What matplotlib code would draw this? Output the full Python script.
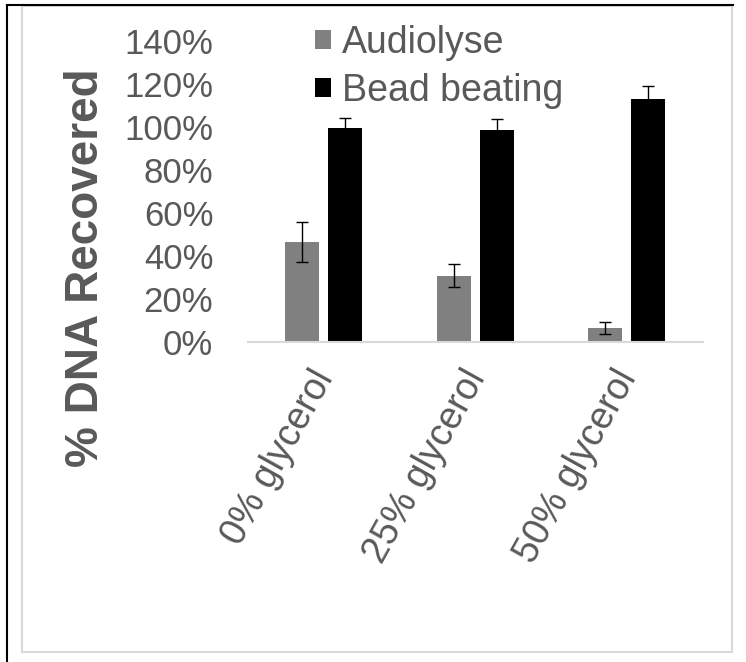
import matplotlib
matplotlib.use("Agg")
import matplotlib.pyplot as plt
import matplotlib.transforms as mtransforms
from matplotlib.lines import Line2D
from matplotlib.patches import Rectangle
import numpy as np

plt.rcParams['font.family'] = ['Liberation Sans', 'DejaVu Sans']

categories = ["0% glycerol", "25% glycerol", "50% glycerol"]
series_names = ["Audiolyse", "Bead beating"]
audiolyse = [46.5, 30.8, 6.5]
audiolyse_err = [9.3, 5.4, 2.8]
bead = [99.5, 98.6, 113.0]
bead_err = [4.6, 5.1, 6.0]
ytick_vals = [0, 20, 40, 60, 80, 100, 120, 140]
ytick_labels = ["0%", "20%", "40%", "60%", "80%", "100%", "120%", "140%"]

W, H = 746, 662
fig = plt.figure(figsize=(W / 100, H / 100), dpi=100)
fig.patch.set_facecolor("white")

# frame decorations
fig.add_artist(Rectangle((22 / W, 1 - 652 / H), (732 - 22) / W, (652 - 6) / H,
                         transform=fig.transFigure, fill=False,
                         edgecolor="#d9d9d9", linewidth=1.5))
fig.add_artist(Line2D([7 / W, 7 / W], [1 - 5 / H, 0], transform=fig.transFigure,
                      color="black", linewidth=1.5))
fig.add_artist(Line2D([7 / W, 733 / W], [1 - 5 / H, 1 - 5 / H], transform=fig.transFigure,
                      color="black", linewidth=1.5))

left, right = 248 / W, 702.5 / W
top, bottom = 1 - 41 / H, 1 - 342 / H
ax = fig.add_axes([left, bottom, right - left, top - bottom])

x = np.arange(len(categories))
bw = 0.224
off = 0.142
b1 = ax.bar(x - off, audiolyse, bw, color="#808080", label=series_names[0],
            yerr=audiolyse_err, error_kw=dict(ecolor="black", elinewidth=1, capsize=4, capthick=1))
b2 = ax.bar(x + off, bead, bw, color="#000000", label=series_names[1],
            yerr=bead_err, error_kw=dict(ecolor="black", elinewidth=1, capsize=4, capthick=1))

ax.set_xlim(-0.5, 2.5)
ax.set_ylim(0, 140)
ax.set_yticks(ytick_vals)
ax.set_yticklabels(ytick_labels, fontsize=25, color="#595959")
ax.tick_params(axis="y", length=0, pad=25)
for lab in ax.get_yticklabels():
    lab.set_va("center_baseline")

ax.set_xticks(x)
ax.set_xticklabels(categories, fontsize=27, color="#595959", rotation=61,
                   ha="right", va="top", rotation_mode="anchor")
ax.tick_params(axis="x", length=0, pad=16)
shift = mtransforms.ScaledTranslation(-14 / 100, 0, fig.dpi_scale_trans)
for lab in ax.get_xticklabels():
    lab.set_transform(lab.get_transform() + shift)

for s in ["top", "right", "left"]:
    ax.spines[s].set_visible(False)
ax.spines["bottom"].set_color("#d9d9d9")
ax.spines["bottom"].set_linewidth(1.5)
ax.patch.set_visible(False)

ax.set_ylabel("% DNA Recovered", fontsize=33, fontweight="bold", color="#595959",
              va="center")
ax.yaxis.set_label_coords((86 - 248) / 454.5, (342 - 268) / 301)

leg = ax.legend(handles=[b1, b2], labels=series_names, loc="upper left",
                bbox_to_anchor=(315 / W, 1 - 25 / H), bbox_transform=fig.transFigure,
                frameon=False, fontsize=27, handlelength=0.43, handleheight=0.43,
                handletextpad=0.3, labelspacing=0.32, borderpad=0, borderaxespad=0)
for t in leg.get_texts():
    t.set_color("#595959")

fig.savefig("out.png", dpi=100)
